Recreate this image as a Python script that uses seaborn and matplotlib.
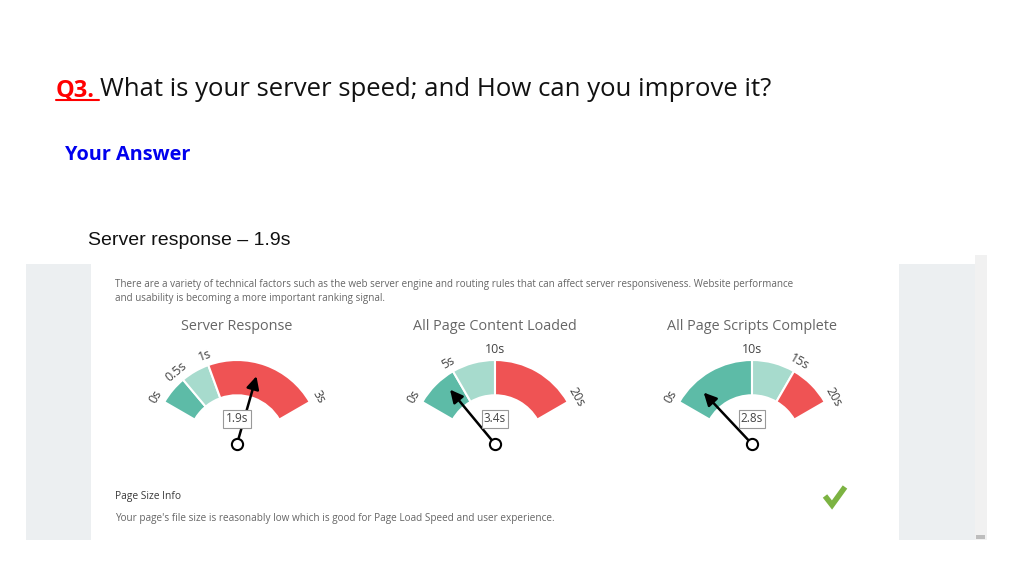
import numpy as np
import matplotlib
matplotlib.use('Agg')
import matplotlib.pyplot as plt
import seaborn as sns
from matplotlib.patches import Rectangle

# ======== data ========
gauge_titles = ['Server Response', 'All Page Content Loaded', 'All Page Scripts Complete']
gauge_max = [3, 20, 20]
gauge_bounds = [[0, 0.5, 1, 3], [0, 5, 10, 20], [0, 10, 15, 20]]
gauge_ticks = [['0s', '0.5s', '1s', '3s'], ['0s', '5s', '10s', '20s'], ['0s', '10s', '15s', '20s']]
gauge_values = [1.9, 3.4, 2.8]
gauge_value_labels = ['1.9s', '3.4s', '2.8s']

# ======== style ========
sns.set_theme(style='white')
plt.rcParams['font.family'] = ['Open Sans', 'DejaVu Sans']

W, H = 1024, 576
fig = plt.figure(figsize=(W / 100, H / 100), dpi=100)
fig.patch.set_facecolor('white')

# background axes in pixel coordinates
bg = fig.add_axes([0, 0, 1, 1])
bg.set_xlim(0, W)
bg.set_ylim(H, 0)
bg.set_axis_off()

# screenshot frame
gray = '#eceff1'
bg.add_patch(Rectangle((26, 264), 65, 276, color=gray, lw=0))
bg.add_patch(Rectangle((899, 264), 76, 276, color=gray, lw=0))
bg.add_patch(Rectangle((975, 255), 12, 285, color='#f1f1f1', lw=0))
bg.add_patch(Rectangle((976, 535), 9, 4, color='#bdbdbd', lw=0))

# slide text
bg.text(56, 96, 'Q3.', color='#ff0000', fontsize=17, fontweight='bold', va='baseline')
bg.plot([56, 99], [100, 100], color='#ff0000', lw=1.5)
bg.text(100, 96, 'What is your server speed; and How can you improve it?',
        color='#111111', fontsize=18.5, va='baseline')
bg.text(65, 160, 'Your Answer', color='#0000ee', fontsize=14.3, fontweight='bold', va='baseline')
bg.text(88, 245, 'Server response \u2013 1.9s', color='#111111', fontsize=14,
        va='baseline', family='Liberation Sans')

# screenshot text
bg.text(115, 287, 'There are a variety of technical factors such as the web server engine and '
        'routing rules that can affect server responsiveness. Website performance',
        color='#666666', fontsize=7.15, va='baseline')
bg.text(115, 301, 'and usability is becoming a more important ranking signal.',
        color='#666666', fontsize=7.15, va='baseline')
bg.text(115, 499, 'Page Size Info', color='#3a3a3a', fontsize=7.4, va='baseline')
bg.text(115, 521, "Your page's file size is reasonably low which is good for Page Load Speed "
        "and user experience.", color='#666666', fontsize=7.2, va='baseline')
bg.plot([825, 832, 845], [496, 505, 487], color='#7cb342', lw=4,
        solid_capstyle='butt', solid_joinstyle='miter')

# ======== gauges ========
seg_colors = ['#5dbba7', '#a7dbcd', '#ef5354']
centers_x = [237, 495, 752]
center_y = 444
R_px = 84
r_outer, r_inner = 1.0, 0.58
rlim = 1.3
half = R_px * rlim

for i in range(3):
    cx = centers_x[i]
    bg.text(cx, 326, gauge_titles[i], color='#666666', fontsize=10.4, ha='center', va='center')

    ax = fig.add_axes([(cx - half) / W, (H - center_y - half) / H, 2 * half / W, 2 * half / H],
                      projection='polar')
    ax.set_theta_offset(np.deg2rad(150))
    ax.set_theta_direction(-1)
    ax.set_ylim(0, rlim)
    ax.set_axis_off()

    scale = np.deg2rad(120) / gauge_max[i]
    b = gauge_bounds[i]
    for k in range(3):
        ax.bar(b[k] * scale, r_outer - r_inner, width=(b[k + 1] - b[k]) * scale,
               bottom=r_inner, align='edge', color=seg_colors[k],
               edgecolor='white', linewidth=1.5)

    for v, lab in zip(b, gauge_ticks[i]):
        ang = 150 - np.rad2deg(v * scale)
        ax.text(v * scale, 1.12, lab, rotation=ang - 90, rotation_mode='anchor',
                ha='center', va='center', fontsize=9, color='#444444')

    th = gauge_values[i] * scale
    ax.annotate('', xy=(th, 0.84), xytext=(0, 0),
                arrowprops=dict(arrowstyle='-|>', color='black', lw=1.8,
                                mutation_scale=19, shrinkA=0, shrinkB=0))
    ax.scatter([0], [0], s=65, facecolor='white', edgecolor='black', linewidth=1.5, zorder=5)
    ax.text(np.deg2rad(60), 0.3, gauge_value_labels[i], ha='center', va='center',
            fontsize=8.5, color='#444444', zorder=6,
            bbox=dict(boxstyle='square,pad=0.2', facecolor='white', edgecolor='#999999', lw=0.8))

fig.savefig('out.png', dpi=100, facecolor='white')
